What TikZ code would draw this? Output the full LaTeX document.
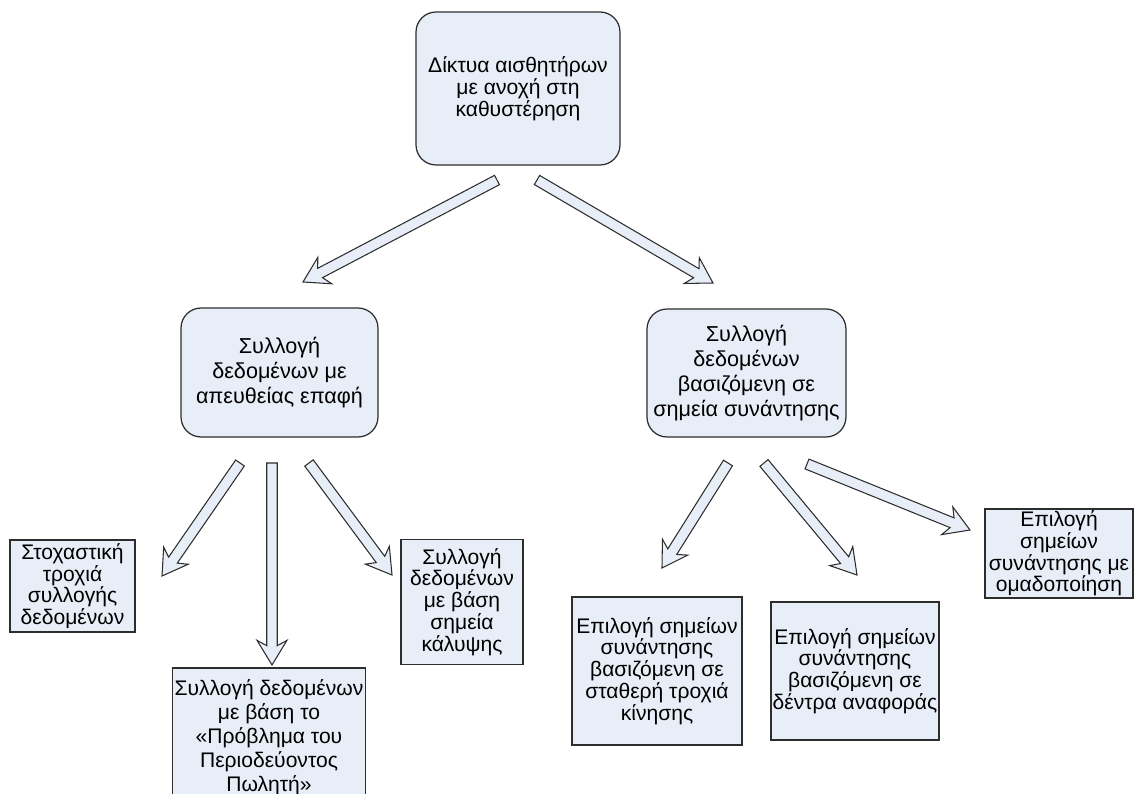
\documentclass[tikz,border=0pt]{standalone}
\usepackage{fontspec}
\setmainfont{Liberation Sans}
\usepackage{xcolor}
\usepackage{tikz}
\usetikzlibrary{calc}
\usetikzlibrary{positioning}

\definecolor{boxfill}{RGB}{232,238,247}
\definecolor{boxline}{RGB}{45,45,45}
\newcommand{\boxfont}{\fontsize{12}{12.4}\selectfont}
\newcommand{\midfont}{\fontsize{12.3}{14.2}\selectfont}

% Blockpfeil von #1 nach #2
\newcommand{\blockpfeil}[2]{%
  \coordinate (bh) at ($(#2)!11pt!(#1)$);
  \coordinate (bw) at ($(#2)!14pt!(#1)$);
  \draw[pfeil] ($(#1)!3pt!90:(#2)$) -- ($(bh)!3pt!90:(#2)$) -- ($(bw)!8.5pt!90:(#2)$) -- (#2)
    -- ($(bw)!8.5pt!-90:(#2)$) -- ($(bh)!3pt!-90:(#2)$) -- ($(#1)!3pt!-90:(#2)$) -- cycle;}

\begin{document}
\begin{tikzpicture}
    [x=0.02cm, y=-0.02cm,
      % Stil für Kästen
      box/.style={rectangle, fill=boxfill, draw=boxline, line width=0.7pt, align=center, inner sep=1pt, font=\boxfont},
      rbox/.style={box, rounded corners=0.4cm},
      % Stil für Pfeile
      pfeil/.style={fill=boxfill, draw=boxline, line width=0.6pt, line join=miter}]
    \useasboundingbox (0,0) rectangle (1134,794);

    % Knoten
    \node[rbox, minimum width=4.08cm, minimum height=3.06cm] (top) at (518,88.5) {Δίκτυα αισθητήρων\\με ανοχή στη\\καθυστέρηση};

    \node[rbox, font=\midfont, minimum width=3.94cm, minimum height=2.58cm] (direct) at (279.5,372.5) {Συλλογή\\δεδομένων με\\απευθείας επαφή};
    \node[rbox, font=\midfont, minimum width=3.98cm, minimum height=2.56cm] (rendez) at (746.5,373) {Συλλογή\\δεδομένων\\βασιζόμενη σε\\σημεία συνάντησης};

    \node[box, minimum width=2.5cm, minimum height=1.84cm] (stoch) at (72.5,586) {Στοχαστική\\τροχιά\\συλλογής\\δεδομένων};
    \node[box, font=\fontsize{12}{13.6}\selectfont, minimum width=3.84cm, minimum height=2.8cm] (tsp) at (269,738) {Συλλογή δεδομένων\\με βάση το\\«Πρόβλημα του\\Περιοδεύοντος\\Πωλητή»};
    \node[box, minimum width=2.44cm, minimum height=2.5cm] (cover) at (462,602) {Συλλογή\\δεδομένων\\με βάση\\σημεία\\κάλυψης};

    \node[box, minimum width=3.4cm, minimum height=2.96cm] (fixed) at (657,671) {Επιλογή σημείων\\συνάντησης\\βασιζόμενη σε\\σταθερή τροχιά\\κίνησης};
    \node[box, minimum width=3.28cm, minimum height=2.76cm] (tree) at (855,671) {Επιλογή σημείων\\συνάντησης\\βασιζόμενη σε\\δέντρα αναφοράς};
    \node[box, minimum width=2.96cm, minimum height=1.74cm] (cluster) at (1059,553.5) {Επιλογή\\σημείων\\συνάντησης με\\ομαδοποίηση};

    % Pfeilenden
    \coordinate (a1s) at (497,180); \coordinate (a1e) at (303,282);
    \coordinate (a2s) at (537,180); \coordinate (a2e) at (713,283);
    \coordinate (a3s) at (240,463); \coordinate (a3e) at (162,576);
    \coordinate (a4s) at (272,463); \coordinate (a4e) at (272,665);
    \coordinate (a5s) at (309,463); \coordinate (a5e) at (392,575);
    \coordinate (a6s) at (728,463); \coordinate (a6e) at (662,568);
    \coordinate (a7s) at (764,463); \coordinate (a7e) at (857,575);
    \coordinate (a8s) at (807,464); \coordinate (a8e) at (970,530);

    % Pfeile
    \foreach \s/\e in {a1s/a1e, a2s/a2e, a3s/a3e, a4s/a4e, a5s/a5e, a6s/a6e, a7s/a7e, a8s/a8e}
      \blockpfeil{\s}{\e};
  \end{tikzpicture}
\end{document}
